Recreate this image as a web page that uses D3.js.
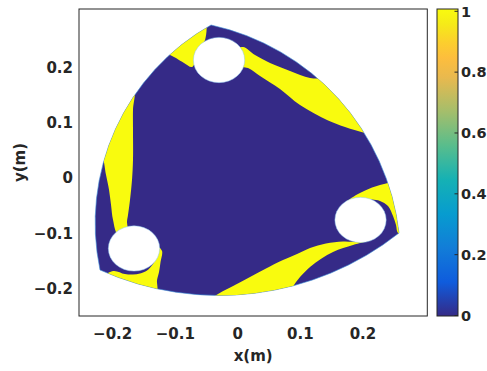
<!DOCTYPE html>
<html><head><meta charset="utf-8">
<script src="https://cdn.jsdelivr.net/npm/d3@7"></script>
<style>html,body{margin:0;padding:0;background:#fff;overflow:hidden}</style>
</head><body><svg id="c" width="487" height="371"></svg>
<script>
// ---------- data ----------
const xDomain = [-0.2538, 0.3028];
const yDomain = [-0.2502, 0.3064];
const xTicks = [-0.2, -0.1, 0, 0.1, 0.2];
const yTicks = [-0.2, -0.1, 0, 0.1, 0.2];
const cbTicks = [0, 0.2, 0.4, 0.6, 0.8, 1];
const xLabel = "x(m)";
const yLabel = "y(m)";

// rotor outline: three vertices and a point on each curved edge (edge i goes vertex i -> vertex i+1)
const vertices = [[-0.0428, 0.2774], [0.2576, -0.0997], [-0.2202, -0.1668]];
const edgeMids = [[0.1608, 0.1436], [0.0270, -0.2089], [-0.1956, 0.0883]];

// holes (value: empty)
const holeCenters = [[-0.0300, 0.2139], [0.1961, -0.0761], [-0.1659, -0.1278]];
const holeRadius = 0.041;

// regions where the field value is 1 (everything else inside the rotor is 0)
const regionTopLeft = [[-0.0524,0.2828],[-0.0844,0.2647],[-0.1243,0.2357],[-0.0988,0.2176],[-0.0860,0.2085],
  [-0.0732,0.2012],[-0.0668,0.2139],[-0.0604,0.2357],[-0.0524,0.2502]];
const regionTopRight = [[-0.0045,0.2321],[0.0083,0.2375],[0.0275,0.2230],[0.0515,0.2085],[0.0834,0.1940],
  [0.1154,0.1813],[0.1393,0.1795],[0.1713,0.1686],[0.2272,0.0870],[0.2192,0.0761],[0.2033,0.0816],
  [0.1713,0.0925],[0.1425,0.1052],[0.0994,0.1323],[0.0674,0.1614],[0.0355,0.1849],[0.0163,0.1994],[0.0003,0.2031]];
const regionLeft = [[-0.1659,0.1595],[-0.2362,0.0689],[-0.2186,0.0471],[-0.2106,0.0054],[-0.2058,-0.0218],
  [-0.2026,-0.0490],[-0.1994,-0.0761],[-0.1914,-0.1033],[-0.1755,-0.1033],[-0.1771,-0.0798],[-0.1755,-0.0671],
  [-0.1723,-0.0399],[-0.1691,-0.0036],[-0.1675,0.0326],[-0.1675,0.0870],[-0.1675,0.1233]];
const regionLeftHole = [[-0.2202,-0.1849],[-0.1994,-0.1686],[-0.1805,-0.1741],[-0.1675,-0.1750],[-0.1563,-0.1731],
  [-0.1451,-0.1677],[-0.1355,-0.1559],[-0.1291,-0.1414],[-0.1275,-0.1251],[-0.1211,-0.1323],[-0.1235,-0.1523],
  [-0.1259,-0.1704],[-0.1291,-0.1849],[-0.1307,-0.2067],[-0.2202,-0.2067]];
const regionBottom = [[-0.0444,-0.2212],[-0.0316,-0.2103],[-0.0045,-0.1940],[0.0195,-0.1795],[0.0435,-0.1650],
  [0.0722,-0.1487],[0.0946,-0.1378],[0.1154,-0.1269],[0.1409,-0.1188],[0.1681,-0.1151],[0.1905,-0.1142],
  [0.1985,-0.1052],[0.2081,-0.1124],[0.1841,-0.1215],[0.1521,-0.1342],[0.1154,-0.1614],[0.0882,-0.1976],[0.0834,-0.2212]];
const regionRight = [[0.1713,-0.0453],[0.1793,-0.0381],[0.1905,-0.0299],[0.2001,-0.0245],[0.2145,-0.0172],
  [0.2272,-0.0127],[0.2400,-0.0091],[0.2528,-0.0018],[0.2752,-0.0399],[0.2752,-0.1124],[0.2560,-0.0997],
  [0.2528,-0.0852],[0.2480,-0.0689],[0.2400,-0.0508],[0.2272,-0.0417],[0.2145,-0.0390],[0.1985,-0.0399]];
const yellowRegions = [regionTopLeft, regionTopRight, regionLeft, regionLeftHole, regionBottom, regionRight];

// parula colormap (colour definition of the colour scale)
const parula = ["#352a87","#0f5cdd","#127dd8","#079ccf","#15b1b4","#59bd8c","#a5be6b","#e9b94e","#fdbe3d","#fcce2e","#f5eb18","#f9fb0e"];
const parulaPos = [0,0.111,0.222,0.333,0.444,0.556,0.667,0.778,0.841,0.889,0.952,1];

// ---------- drawing ----------
const svg = d3.select('#c');
const FONT = '"DejaVu Sans", sans-serif';
const TXT = '#262626';
const x = d3.scaleLinear().domain(xDomain).range([79, 427.3]);
const y = d3.scaleLinear().domain(yDomain).range([316, 9]);
const colorAt = v => d3.scaleLinear().domain(parulaPos).range(parula)(v);
const fmt = d => d === 0 ? '0' : (d < 0 ? '\u2212' : '') + Math.abs(d).toString();

const P = d => [x(d[0]), y(d[1])];
function arcTo(p0, p1, p2) {
  const a = Math.hypot(p1[0]-p2[0], p1[1]-p2[1]);
  const b = Math.hypot(p0[0]-p2[0], p0[1]-p2[1]);
  const c = Math.hypot(p0[0]-p1[0], p0[1]-p1[1]);
  const cross = (p1[0]-p0[0])*(p2[1]-p0[1]) - (p1[1]-p0[1])*(p2[0]-p0[0]);
  const R = a*b*c/(2*Math.abs(cross));
  return `A${R},${R} 0 0 ${cross > 0 ? 1 : 0} ${p2[0]},${p2[1]}`;
}
let outline = `M${P(vertices[0]).join(',')}`;
for (let i = 0; i < 3; i++) {
  outline += arcTo(P(vertices[i]), P(edgeMids[i]), P(vertices[(i+1)%3]));
}
outline += 'Z';

const defs = svg.append('defs');
defs.append('clipPath').attr('id', 'rotor').append('path').attr('d', outline);
const grad = defs.append('linearGradient').attr('id', 'cb').attr('x1', 0).attr('y1', 1).attr('x2', 0).attr('y2', 0);
parula.forEach((c, i) => grad.append('stop').attr('offset', parulaPos[i]).attr('stop-color', c));

// rotor body (value 0)
svg.append('path').attr('d', outline).attr('fill', colorAt(0))
  .attr('stroke', '#3d8fd8').attr('stroke-width', 0.6);

const line = d3.line().x(d => x(d[0])).y(d => y(d[1])).curve(d3.curveCatmullRomClosed.alpha(0.5));
svg.append('g').attr('clip-path', 'url(#rotor)')
  .selectAll('path').data(yellowRegions).join('path')
  .attr('d', line).attr('fill', colorAt(1));

// holes
svg.append('g').selectAll('ellipse').data(holeCenters).join('ellipse')
  .attr('cx', d => x(d[0])).attr('cy', d => y(d[1]))
  .attr('rx', x(holeRadius) - x(0)).attr('ry', y(0) - y(holeRadius))
  .attr('fill', '#fff').attr('stroke', '#8ec6ee').attr('stroke-width', 0.5);

// axes box
svg.append('rect').attr('x', 79).attr('y', 9).attr('width', 427.3-79).attr('height', 316-9)
  .attr('fill', 'none').attr('stroke', TXT).attr('stroke-width', 1);

// tick labels
svg.append('g').selectAll('text').data(xTicks).join('text')
  .attr('x', d => x(d)).attr('y', 338.5).attr('text-anchor', 'middle')
  .attr('font-family', FONT).attr('font-weight', 'bold').attr('font-size', 15).attr('fill', TXT)
  .text(fmt);
svg.append('g').selectAll('text').data(yTicks).join('text')
  .attr('x', 73).attr('y', d => y(d)).attr('dy', '0.36em').attr('text-anchor', 'end')
  .attr('font-family', FONT).attr('font-weight', 'bold').attr('font-size', 15).attr('fill', TXT)
  .text(fmt);

// axis labels
svg.append('text').attr('x', (79+427.3)/2).attr('y', 361).attr('text-anchor', 'middle')
  .attr('font-family', FONT).attr('font-weight', 'bold').attr('font-size', 15).attr('fill', TXT).text(xLabel);
svg.append('text').attr('transform', `translate(24.5,${(9+316)/2}) rotate(-90)`).attr('text-anchor', 'middle')
  .attr('font-family', FONT).attr('font-weight', 'bold').attr('font-size', 15).attr('fill', TXT).text(yLabel);

// colorbar
const cb = d3.scaleLinear().domain([0, 1]).range([315.5, 11.3]);
svg.append('rect').attr('x', 437).attr('y', 9).attr('width', 21).attr('height', 307)
  .attr('fill', 'url(#cb)').attr('stroke', TXT).attr('stroke-width', 1);
svg.append('g').selectAll('line').data(cbTicks).join('line')
  .attr('x1', 454.5).attr('x2', 458).attr('y1', d => cb(d)).attr('y2', d => cb(d))
  .attr('stroke', TXT).attr('stroke-width', 1);
svg.append('g').selectAll('text').data(cbTicks).join('text')
  .attr('x', 461).attr('y', d => cb(d)).attr('dy', '0.36em')
  .attr('font-family', FONT).attr('font-weight', 'bold').attr('font-size', 14.5).attr('fill', TXT)
  .text(d => d.toString());
</script></body></html>
